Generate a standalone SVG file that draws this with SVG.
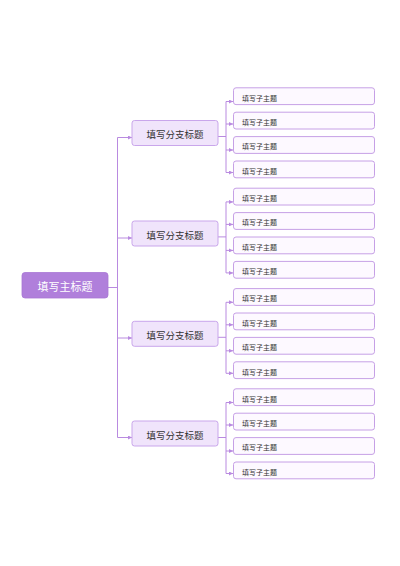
<svg xmlns="http://www.w3.org/2000/svg" width="400" height="566" viewBox="0 0 400 566">
<defs>
<style>
.main{fill:#b07fdb;stroke:#a877d4;stroke-width:0.8}
.br{fill:#f0e4fb;stroke:#c9a6eb;stroke-width:1}
.sub{fill:#fdf9ff;stroke:#c6a0e6;stroke-width:1}
.ln{fill:none;stroke:#b98ae0;stroke-width:1}
.t{font-family:"Liberation Sans","Noto Sans CJK SC",sans-serif}
.tm{font-size:11px;fill:#ffffff;text-anchor:middle}
.tb{font-size:9.5px;fill:#333333;text-anchor:middle}
.ts{font-size:7px;fill:#333333}
</style>
<marker id="ar" viewBox="0 0 6 6" refX="6" refY="3" markerWidth="4" markerHeight="4" orient="auto" markerUnits="userSpaceOnUse">
<path d="M0,0 L6,3 L0,6 Z" fill="#b98ae0"/>
</marker>
</defs>
<rect width="400" height="566" fill="#ffffff"/>
<g id="connectors">
<path class="ln" d="M108,287.5 H117.5"/>
<path class="ln" d="M117.5,137.5 V437.5"/>
<path class="ln" d="M117.5,137.5 H132" marker-end="url(#ar)"/>
<path class="ln" d="M117.5,238 H132" marker-end="url(#ar)"/>
<path class="ln" d="M117.5,338 H132" marker-end="url(#ar)"/>
<path class="ln" d="M117.5,437.5 H132" marker-end="url(#ar)"/>
<g id="c1">
<path class="ln" d="M218,136.5 H226"/>
<path class="ln" d="M226,101.5 V172.5"/>
<path class="ln" d="M226,101.5 H233" marker-end="url(#ar)"/>
<path class="ln" d="M226,124 H233" marker-end="url(#ar)"/>
<path class="ln" d="M226,150 H233" marker-end="url(#ar)"/>
<path class="ln" d="M226,172.5 H233" marker-end="url(#ar)"/>
</g>
<g id="c2" transform="translate(0,100.4)">
<path class="ln" d="M218,136.5 H226"/>
<path class="ln" d="M226,101.5 V172.5"/>
<path class="ln" d="M226,101.5 H233" marker-end="url(#ar)"/>
<path class="ln" d="M226,124 H233" marker-end="url(#ar)"/>
<path class="ln" d="M226,150 H233" marker-end="url(#ar)"/>
<path class="ln" d="M226,172.5 H233" marker-end="url(#ar)"/>
</g>
<g id="c3" transform="translate(0,200.8)">
<path class="ln" d="M218,136.5 H226"/>
<path class="ln" d="M226,101.5 V172.5"/>
<path class="ln" d="M226,101.5 H233" marker-end="url(#ar)"/>
<path class="ln" d="M226,124 H233" marker-end="url(#ar)"/>
<path class="ln" d="M226,150 H233" marker-end="url(#ar)"/>
<path class="ln" d="M226,172.5 H233" marker-end="url(#ar)"/>
</g>
<g id="c4" transform="translate(0,301)">
<path class="ln" d="M218,136.5 H226"/>
<path class="ln" d="M226,101.5 V172.5"/>
<path class="ln" d="M226,101.5 H233" marker-end="url(#ar)"/>
<path class="ln" d="M226,124 H233" marker-end="url(#ar)"/>
<path class="ln" d="M226,150 H233" marker-end="url(#ar)"/>
<path class="ln" d="M226,172.5 H233" marker-end="url(#ar)"/>
</g>
</g>
<g id="main">
<rect class="main" x="22" y="272.5" width="86" height="25.5" rx="3"/>
<text class="t tm" x="65" y="290.5">填写主标题</text>
</g>
<g id="branch1"><rect class="br" x="132" y="120.5" width="86" height="25" rx="2.5"/><text class="t tb" x="175" y="138">填写分支标题</text></g>
<g id="branch2"><rect class="br" x="132" y="221" width="86" height="25" rx="2.5"/><text class="t tb" x="175" y="238.5">填写分支标题</text></g>
<g id="branch3"><rect class="br" x="132" y="321.3" width="86" height="25" rx="2.5"/><text class="t tb" x="175" y="338.8">填写分支标题</text></g>
<g id="branch4"><rect class="br" x="132" y="421" width="86" height="25" rx="2.5"/><text class="t tb" x="175" y="438.5">填写分支标题</text></g>
<g id="sub1-1"><rect class="sub" x="233.5" y="87.8" width="141" height="16.8" rx="2.5"/><text class="t ts" x="242" y="100.6">填写子主题</text></g>
<g id="sub1-2"><rect class="sub" x="233.5" y="112.2" width="141" height="16.8" rx="2.5"/><text class="t ts" x="242" y="125">填写子主题</text></g>
<g id="sub1-3"><rect class="sub" x="233.5" y="136.6" width="141" height="16.8" rx="2.5"/><text class="t ts" x="242" y="149.4">填写子主题</text></g>
<g id="sub1-4"><rect class="sub" x="233.5" y="161" width="141" height="16.8" rx="2.5"/><text class="t ts" x="242" y="173.8">填写子主题</text></g>
<g id="sub2-1"><rect class="sub" x="233.5" y="188.2" width="141" height="16.8" rx="2.5"/><text class="t ts" x="242" y="201">填写子主题</text></g>
<g id="sub2-2"><rect class="sub" x="233.5" y="212.6" width="141" height="16.8" rx="2.5"/><text class="t ts" x="242" y="225.4">填写子主题</text></g>
<g id="sub2-3"><rect class="sub" x="233.5" y="237" width="141" height="16.8" rx="2.5"/><text class="t ts" x="242" y="249.8">填写子主题</text></g>
<g id="sub2-4"><rect class="sub" x="233.5" y="261.4" width="141" height="16.8" rx="2.5"/><text class="t ts" x="242" y="274.2">填写子主题</text></g>
<g id="sub3-1"><rect class="sub" x="233.5" y="288.6" width="141" height="16.8" rx="2.5"/><text class="t ts" x="242" y="301.4">填写子主题</text></g>
<g id="sub3-2"><rect class="sub" x="233.5" y="313" width="141" height="16.8" rx="2.5"/><text class="t ts" x="242" y="325.8">填写子主题</text></g>
<g id="sub3-3"><rect class="sub" x="233.5" y="337.4" width="141" height="16.8" rx="2.5"/><text class="t ts" x="242" y="350.2">填写子主题</text></g>
<g id="sub3-4"><rect class="sub" x="233.5" y="361.8" width="141" height="16.8" rx="2.5"/><text class="t ts" x="242" y="374.6">填写子主题</text></g>
<g id="sub4-1"><rect class="sub" x="233.5" y="388.8" width="141" height="16.8" rx="2.5"/><text class="t ts" x="242" y="401.6">填写子主题</text></g>
<g id="sub4-2"><rect class="sub" x="233.5" y="413.2" width="141" height="16.8" rx="2.5"/><text class="t ts" x="242" y="426">填写子主题</text></g>
<g id="sub4-3"><rect class="sub" x="233.5" y="437.6" width="141" height="16.8" rx="2.5"/><text class="t ts" x="242" y="450.4">填写子主题</text></g>
<g id="sub4-4"><rect class="sub" x="233.5" y="462" width="141" height="16.8" rx="2.5"/><text class="t ts" x="242" y="474.8">填写子主题</text></g>
</svg>
